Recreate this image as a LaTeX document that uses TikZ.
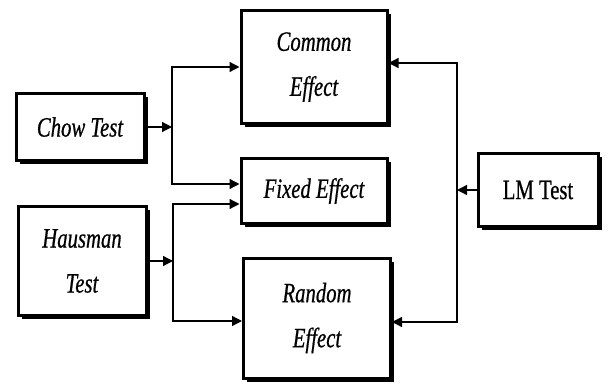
\documentclass[tikz,border=0pt]{standalone}
\usepackage{fontspec}
\setmainfont{Liberation Serif}
\newfontfamily\narrowserif[FakeStretch=0.74,FakeBold=0.6]{Liberation Serif}
\usetikzlibrary{arrows.meta,positioning,shadows}

\begin{document}
\begin{tikzpicture}[
    x=1pt, y=-1pt,
    testbox/.style={rectangle, draw=black, line width=3pt, fill=white, drop shadow={shadow xshift=3.5pt, shadow yshift=-3.5pt, fill=black, opacity=1}, align=center, inner sep=0pt, font=\narrowserif\itshape\fontsize{28}{45}\selectfont},
    uprightbox/.style={testbox, font=\narrowserif\fontsize{28}{45}\selectfont},
    link/.style={line width=1.3pt, -{Triangle[length=10pt,width=10pt]}}
]
    \useasboundingbox (0,0) rectangle (608,385);

    \node[testbox, minimum width=128pt, minimum height=67pt] (chow) at (80,127) {Chow Test};
    \node[testbox, minimum width=128pt, minimum height=109pt] (hausman) at (82,261) {Hausman\\Test};
    \node[testbox, minimum width=146pt, minimum height=113pt] (common) at (314,67) {Common\\Effect};
    \node[testbox, minimum width=146pt, minimum height=65pt] (fixed) at (314,191) {Fixed Effect};
    \node[testbox, minimum width=147pt, minimum height=120pt] (random) at (317,318) {Random\\Effect};
    \node[uprightbox, minimum width=120pt, minimum height=73pt] (lm) at (538,190) {LM Test};

    \coordinate (chowjoin) at (172,127);
    \coordinate (hausjoin) at (173,261);
    \coordinate (lmjoin) at (457,190);

    \draw[link] (chow) -- (chowjoin);
    \draw[link] (chowjoin) |- (common);
    \draw[link] (chowjoin) |- ([yshift=7pt]fixed.west);

    \draw[link] (hausman) -- (hausjoin);
    \draw[link] (hausjoin) |- ([yshift=-13pt]fixed.west);
    \draw[link] (hausjoin) |- ([yshift=-3pt]random.west);

    \draw[link] (lm) -- (lmjoin);
    \draw[link] (lmjoin) |- ([yshift=4pt]common.east);
    \draw[link] (lmjoin) |- ([yshift=-4pt]random.east);
\end{tikzpicture}
\end{document}
